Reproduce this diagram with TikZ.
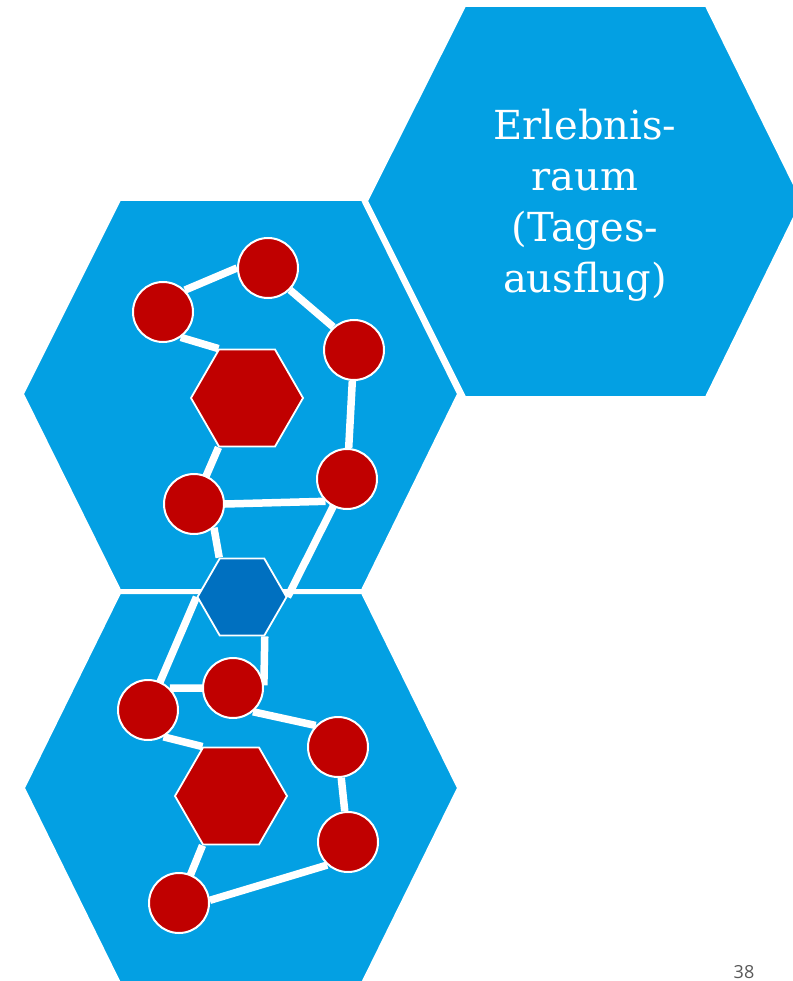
\documentclass[tikz,border=0pt]{standalone}
\usepackage{fontspec}
\usetikzlibrary{shapes.geometric}
\newfontfamily\hexserif{DejaVu Serif}
\newfontfamily\pagefont{Open Sans}
\definecolor{hexblue}{RGB}{3,160,227}
\definecolor{darkhexc}{RGB}{0,112,192}
\definecolor{redc}{RGB}{192,0,0}
\definecolor{pagegray}{RGB}{89,89,89}
\pgfdeclarelayer{bg}
\pgfdeclarelayer{mid}
\pgfsetlayers{bg,mid,main}
\tikzset{
  bighex/.style={fill=hexblue, draw=white, line width=2pt, line join=miter},
  ball/.style={circle, fill=redc, draw=white, line width=2pt, minimum size=60pt, inner sep=0pt},
  redhex/.style={regular polygon, regular polygon sides=6, fill=redc, draw=white, line width=1.8pt, minimum size=112pt, inner sep=0pt},
  bluehex/.style={regular polygon, regular polygon sides=6, fill=darkhexc, draw=white, line width=1.8pt, minimum size=89pt, inner sep=0pt},
  link/.style={draw=white, line width=7.5pt}
}
\begin{document}
\begin{tikzpicture}[x=1pt,y=-1pt]
\useasboundingbox (0,0) rectangle (792,981);
\clip (0,0) rectangle (792,981);
\begin{pgfonlayer}{bg}
  \fill[white] (0,0) rectangle (792,981);
  \path[bighex] (465,6) -- (706,6) -- (802,201) -- (706,397) -- (465,397) -- (367,201) -- cycle;
  \path[bighex] (120,200) -- (362,200) -- (458,394) -- (362,590) -- (120,590) -- (23,394) -- cycle;
  \path[bighex] (120,593) -- (362,593) -- (458,788) -- (362,983) -- (120,983) -- (24,788) -- cycle;
\end{pgfonlayer}
\node[font=\hexserif\fontsize{40}{51}\selectfont, text=white, align=center, anchor=north, inner sep=0pt] (title) at (585,109) {Erlebnis-\\raum\\(Tages-\\ausflug)};
% top group
\node[redhex] (rht) at (247,398) {};
\node[ball] (c1) at (163,312) {};
\node[ball] (c2) at (268,268) {};
\node[ball] (c3) at (354,350) {};
\node[ball] (c4) at (347,479) {};
\node[ball] (c5) at (194,504) {};
% centre
\node[bluehex] (bh) at (242,597) {};
% bottom group
\node[redhex] (rhb) at (231,796) {};
\node[ball] (d1) at (148,710) {};
\node[ball] (d2) at (233,688) {};
\node[ball] (d3) at (338,747) {};
\node[ball] (d4) at (348,842) {};
\node[ball] (d5) at (179,903) {};
\node[font=\pagefont\fontsize{18}{18}\selectfont, text=pagegray, anchor=north, inner sep=0pt] (pg) at (744,965) {38};
\begin{pgfonlayer}{mid}
  \path[link] (c1.45) -- (c2.180);
  \path[link] (c2.-45) -- (c3.132);
  \path[link] (c3) -- (c4);
  \path[link] (c4.226) -- (c5.0);
  \path[link] (c5.center) -- (rht.240);
  \path[link] (c1.-55) -- (rht.120);
  \path[link] (c5.-50) -- (bh.120);
  \path[link] (c4.center) -- (bh.0);
  \path[link] (bh.180) -- (d1.center);
  \path[link] (bh.300) -- (d2.5);
  \path[link] (d1.45) -- (d2.180);
  \path[link] (d2.-50) -- (d3.136);
  \path[link] (d3) -- (d4);
  \path[link] (d4.228) -- (d5.5);
  \path[link] (d5.center) -- (rhb.240);
  \path[link] (d1.-60) -- (rhb.120);
\end{pgfonlayer}
\end{tikzpicture}
\end{document}
